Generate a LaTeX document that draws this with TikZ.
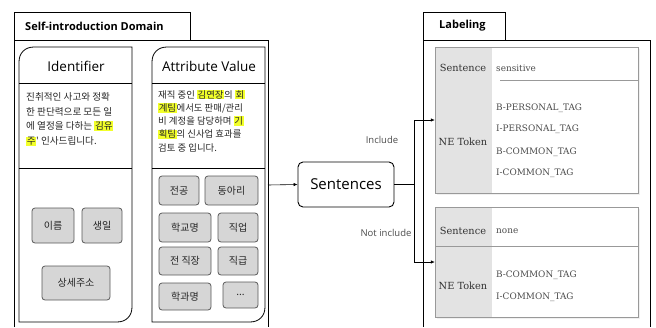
\documentclass[tikz,border=0pt]{standalone}
\usepackage{fontspec}
\setmainfont{Liberation Serif}
\newfontfamily\kr{Noto Sans CJK KR}
\newfontfamily\hd{Open Sans}
\newfontfamily\tb{DejaVu Serif}
\usetikzlibrary{arrows.meta}
\definecolor{hly}{HTML}{F2FF2A}
\newcommand\hlt[1]{{\setlength{\fboxsep}{0.6pt}\colorbox{hly}{#1}}}
\newcommand\rpanel[5]{% name x1 y1 x2 y2
  \draw[panel] (#2,#5) -- (#2,#3+15) .. controls (#2,#3+6) and (#2+6,#3) .. (#2+15,#3)
    -- (#4,#3) -- (#4,#5-15) .. controls (#4,#5-6) and (#4-6,#5) .. (#4-15,#5) -- cycle;
  \coordinate (#1) at (#4,#3);}
\begin{document}
\begin{tikzpicture}[x=1pt,y=-1pt,
  panel/.style={draw=black, line width=0.8pt},
  frame/.style={draw=black, line width=0.9pt},
  btn/.style={draw=black!65, fill=black!16, rounded corners=3pt, line width=0.8pt,
    font=\kr\fontsize{10}{11}\selectfont, text=black!85, inner sep=0pt},
  hdtext/.style={font=\hd\fontsize{13.5}{15}\selectfont, inner sep=0pt},
  tabtext/.style={font=\hd\bfseries\fontsize{11}{12}\selectfont, inner sep=0pt},
  krtext/.style={font=\kr\fontsize{9.6}{14.8}\selectfont, align=left, inner sep=0pt, anchor=north west, text=black!85},
  tblbox/.style={draw=black!40, line width=0.7pt},
  tblfill/.style={fill=black!11},
  thd/.style={font=\tb\fontsize{9.8}{11}\selectfont, text=black!80, inner sep=0pt},
  ttag/.style={font=\tb\fontsize{8.9}{10}\selectfont, text=black!70, inner sep=0pt, anchor=west},
  lbl/.style={font=\hd\fontsize{9.5}{11}\selectfont, text=black!70, inner sep=0pt},
  arr/.style={draw=black, line width=0.6pt, -{Latex[length=4pt,width=3.5pt]}},
  ln/.style={draw=black, line width=0.6pt}]
\useasboundingbox (0,0) rectangle (656,327);

% ---------- left frame ----------
\draw[frame] (14,40) rectangle (190,12);
\node[tabtext, anchor=west] (domtab) at (25,26) {Self-introduction Domain};
\draw[frame] (14,327) -- (14,40) -- (268,40) -- (268,327);

% Identifier panel
\rpanel{idp}{19}{47}{132}{322}
\draw[panel] (19,83) -- (132,83);
\draw[panel] (19,168) -- (132,168);
\node[hdtext] (idh) at (76,66) {Identifier};
\node[krtext] (idtxt) at (26,92) {진취적인 사고와 정확\\한 판단력으로 모든 일\\에 열정을 다하는 \hlt{김유}\\\hlt{주}' 인사드립니다.};
\node[btn, minimum width=42pt, minimum height=35pt] (b1) at (53,225.5) {이름};
\node[btn, minimum width=40pt, minimum height=35pt] (b2) at (102,225.5) {생일};
\node[btn, minimum width=68pt, minimum height=34pt] (b3) at (76,283) {상세주소};

% Attribute Value panel
\rpanel{avp}{152}{47}{265}{322}
\draw[panel] (152,83) -- (265,83);
\draw[panel] (152,168) -- (265,168);
\node[hdtext] (avh) at (209,66) {Attribute Value};
\node[krtext, font=\kr\fontsize{9.4}{13.3}\selectfont] (avtxt) at (158,89.5) {재직 중인 \hlt{김연장}의 \hlt{회}\\\hlt{계팀}에서도 판매/관리\\비 계정을 담당하며 \hlt{기}\\\hlt{획팀}의 신사업 효과를\\검토 중 입니다.};
\node[btn, minimum width=40pt, minimum height=29pt] (c1) at (179,190.5) {전공};
\node[btn, minimum width=53pt, minimum height=29pt] (c2) at (231.5,190.5) {동아리};
\node[btn, minimum width=52pt, minimum height=29pt] (c3) at (185,227.5) {학교명};
\node[btn, minimum width=40pt, minimum height=29pt] (c4) at (238,227.5) {직업};
\node[btn, minimum width=52pt, minimum height=28pt] (c5) at (185,261) {전 직장};
\node[btn, minimum width=40pt, minimum height=28pt] (c6) at (238,261) {직급};
\node[btn, minimum width=52pt, minimum height=27pt] (c7) at (185,296.5) {학과명};
\node[btn, minimum width=35pt, minimum height=26pt] (c8) at (240.5,295) {...};

% ---------- middle ----------
\coordinate (src) at (268,185);
\node[draw=black, line width=0.9pt, rounded corners=5pt, minimum width=96pt, minimum height=45pt,
  font=\hd\fontsize{15}{17}\selectfont, inner sep=0pt] (sent) at (346,184.5) {Sentences};
\draw[arr] (src) -- (sent.west);

% ---------- right frame ----------
\draw[frame] (423,40) rectangle (505,12);
\node[tabtext, anchor=west] (labtab) at (439,26) {Labeling};
\draw[frame] (423,327) -- (423,40) -- (650,40) -- (650,327);

% table 1
\fill[black!6] (437,49) rectangle (640,195);
\fill[white] (435,47) rectangle (638,193);
\fill[tblfill] (435,47) rectangle (492,193);
\draw[tblbox] (500,80) -- (638,80);
\draw[tblbox] (435,47) rectangle (638,193);
\node[draw=none, minimum width=203pt, minimum height=146pt, inner sep=0pt] (t1) at (536.5,120) {};
\node[thd] (t1s) at (463,68) {Sentence};
\node[ttag] (t1v) at (496,68) {sensitive};
\node[thd] (t1n) at (463,142) {NE Token};
\node[ttag] (t1a) at (496,108) {B-PERSONAL\_TAG};
\node[ttag] (t1b) at (496,129) {I-PERSONAL\_TAG};
\node[ttag] (t1c) at (496,152) {B-COMMON\_TAG};
\node[ttag] (t1d) at (496,173) {I-COMMON\_TAG};

% table 2
\fill[black!6] (437,209) rectangle (640,319);
\fill[white] (435,207) rectangle (638,317);
\fill[tblfill] (435,207) rectangle (492,317);
\draw[tblbox] (435,246) -- (638,246);
\draw[tblbox] (435,207) rectangle (638,317);
\node[draw=none, minimum width=203pt, minimum height=110pt, inner sep=0pt] (t2) at (536.5,262) {};
\node[thd] (t2s) at (463,231) {Sentence};
\node[ttag] (t2v) at (496,231) {none};
\node[thd] (t2n) at (463,286) {NE Token};
\node[ttag] (t2a) at (496,275) {B-COMMON\_TAG};
\node[ttag] (t2b) at (496,297) {I-COMMON\_TAG};

% connectors
\draw[ln] (sent.east) -- (414,184.5) coordinate (br);
\draw[arr] (br) |- (t1.west);
\draw[arr] (br) |- (t2.west);
\node[lbl] (inc) at (382,140) {Include};
\node[lbl] (ninc) at (386,233) {Not include};
\end{tikzpicture}
\end{document}
